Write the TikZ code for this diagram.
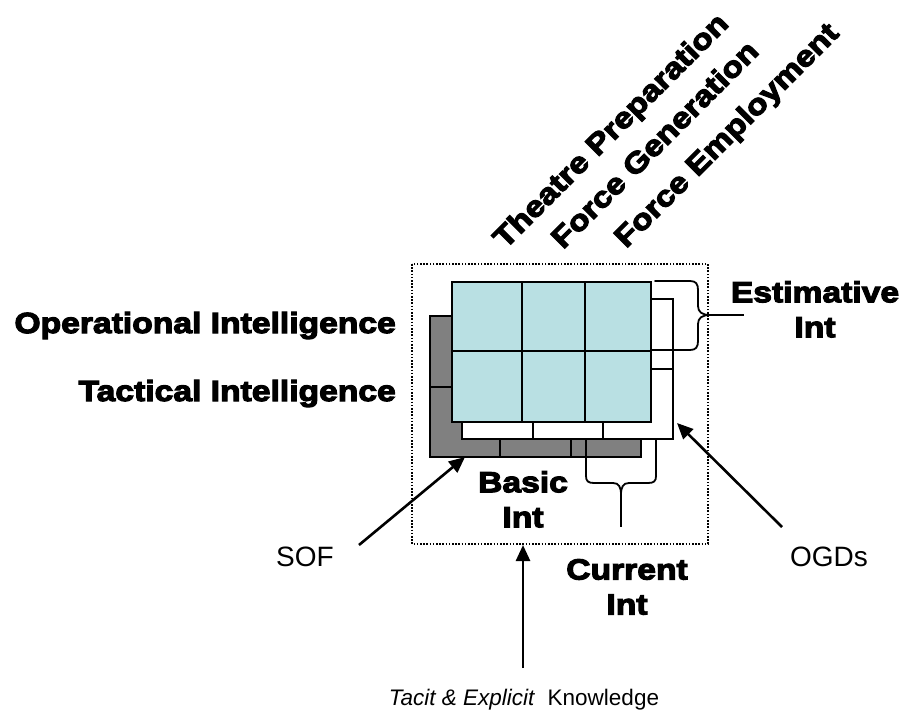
\documentclass[tikz,border=0pt]{standalone}
\usepackage{fontspec}
\setmainfont{Liberation Sans}
\newfontfamily\heavy{Liberation Sans Bold}[FakeStretch=1.16,FakeBold=4]
\usetikzlibrary{arrows.meta}
\definecolor{paneblue}{RGB}{185,224,227}
\definecolor{panegray}{RGB}{128,128,128}
\tikzset{
  gridline/.style={draw=black,line width=2.4pt,line join=miter},
  bracepath/.style={draw=black,line width=1.8pt,line cap=round},
  pointer/.style={draw=black,line width=2.6pt,-{Triangle[length=16pt,width=14pt]}},
  bigword/.style={font=\heavy\fontsize{29}{35}\selectfont,align=center,inner sep=0pt,anchor=north},
  sideword/.style={font=\heavy\fontsize{29}{35}\selectfont,inner sep=0pt,anchor=base east},
  phaseword/.style={font=\heavy\fontsize{29}{35}\selectfont,inner sep=0pt,rotate=45,anchor=base west},
  plainword/.style={font=\fontsize{28}{32}\selectfont,inner sep=0pt,anchor=base}
}
\begin{document}
\begin{tikzpicture}[x=1pt,y=-1pt]
\useasboundingbox (0,0) rectangle (904,709);

% dotted frame around the layered grid
\draw[line width=1.6pt,dash pattern=on 1.6pt off 1.6pt] (412,264) rectangle (708,544);

% back layer (grey)
\path[gridline,fill=panegray] (430,316) rectangle (641,457);
\draw[gridline] (430,387) -- (641,387) (500,316) -- (500,457) (571,316) -- (571,457);

% middle layer (white)
\path[gridline,fill=white] (462,299) rectangle (673,439);
\draw[gridline] (462,369) -- (673,369) (533,299) -- (533,439) (603,299) -- (603,439);

% front layer (blue)
\path[gridline,fill=paneblue] (452,282) rectangle (651,422);
\draw[gridline] (452,351) -- (651,351) (522,282) -- (522,422) (585,282) -- (585,422);

% brace for estimative intelligence
\draw[bracepath] (655,281) -- (690,281) .. controls (696,281) and (698,284) .. (698,290)
  -- (698,306) .. controls (698,312) and (702,315) .. (710,315)
  .. controls (702,315) and (698,318) .. (698,324)
  -- (698,341) .. controls (698,347) and (696,350) .. (690,350) -- (652,350);
\coordinate (estTip) at (710,315);
\coordinate (estEnd) at (744,315);
\draw[line width=2.6pt] (estTip) -- (estEnd);

% brace for current intelligence
\draw[bracepath] (586,439) -- (586,476) .. controls (586,481) and (588,483) .. (594,483)
  -- (613,483) .. controls (619,483) and (621,487) .. (621,495);
\draw[bracepath] (656,439) -- (656,476) .. controls (656,481) and (654,483) .. (648,483)
  -- (629,483) .. controls (623,483) and (621,487) .. (621,495);
\coordinate (curTip) at (621,495);
\coordinate (curEnd) at (621,527);
\draw[line width=2.6pt] (curTip) -- (curEnd);

% labels
\node[sideword] (opint) at (396,333) {Operational Intelligence};
\node[sideword] (tacint) at (396,401) {Tactical Intelligence};
\node[bigword] (estint) at (815,281) {Estimative\\Int};
\node[bigword] (basicint) at (523,471) {Basic\\Int};
\node[bigword] (curint) at (627,559) {Current\\Int};

\node[phaseword] (theatre) at (505,250) {Theatre Preparation};
\node[phaseword] (forcegen) at (563,250) {Force Generation};
\node[phaseword] (forceemp) at (626,249) {Force Employment};

\node[plainword] (sof) at (305,566) {SOF};
\node[plainword] (ogds) at (829,566) {OGDs};
\node[inner sep=0pt,anchor=base,font=\fontsize{22.5}{26}\selectfont] (know) at (524,705)
  {\textit{Tacit \& Explicit}\ \ Knowledge};

% pointers into the layers
\coordinate (sofTip) at (465,457);
\coordinate (sofStart) at (359,545);
\coordinate (ogdTip) at (677,423);
\coordinate (ogdStart) at (782,527);
\coordinate (knowTip) at (523,545);
\coordinate (knowStart) at (523,668);
\draw[pointer] (sofStart) -- (sofTip);
\draw[pointer] (ogdStart) -- (ogdTip);
\draw[pointer] (knowStart) -- (knowTip);
\end{tikzpicture}
\end{document}
